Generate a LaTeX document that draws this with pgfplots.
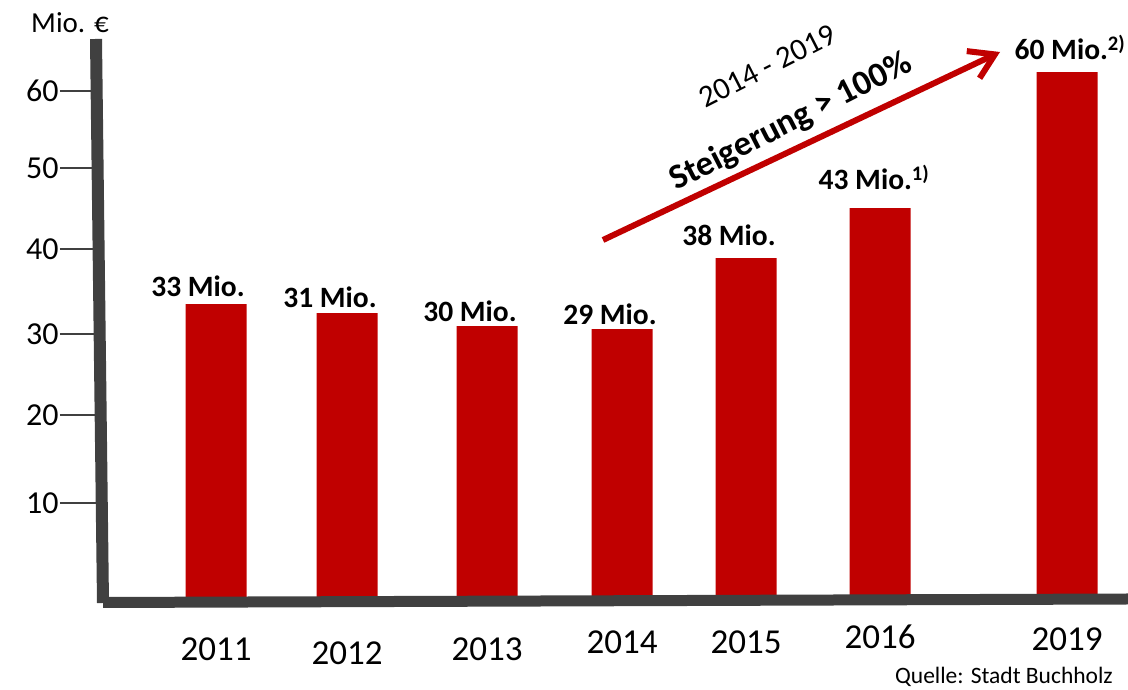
\documentclass[border=0pt]{standalone}
\usepackage{pgfplots}
\pgfplotsset{compat=1.18}
\usepackage{fontspec}
\setmainfont{Carlito}
\usetikzlibrary{arrows.meta}
\definecolor{barred}{HTML}{C00000}
\definecolor{axgray}{HTML}{404040}
\begin{document}
\begin{tikzpicture}[x=1pt,y=1pt]
\useasboundingbox (0,0) rectangle (1128,690);
\begin{axis}[
  at={(100pt,90pt)}, anchor=south west,
  scale only axis, width=1028pt, height=561pt,
  xmin=100, xmax=1128, ymin=0, ymax=64.8,
  axis line style={draw=none},
  ybar, bar width=61pt,
  xtick={216,347,487,622,746,880,1067},
  xticklabels={2011,\raisebox{-4pt}{2012},2013,\raisebox{7pt}{2014},\raisebox{7pt}{2015},\raisebox{12pt}{2016},\raisebox{10pt}{2019}},
  xtick style={draw=none},
  xtick pos=bottom, ytick pos=left,
  xticklabel style={font=\fontsize{35}{35}\selectfont, anchor=base, yshift=-21pt},
  ytick={11.2,21.36,30.72,40.53,49.88,58.78},
  yticklabels={10,20,30,40,50,60},
  tick align=outside,
  major tick length=40pt,
  ytick style={axgray, line width=2.5pt},
  yticklabel style={font=\fontsize{32}{32}\selectfont, anchor=east, xshift=2pt},
  /pgf/number format/assume math mode=true,
  clip=false,
]
\addplot[fill=barred, draw=none] coordinates {
  (216,34.18) (347,33.14) (487,31.64) (622,31.29) (746,39.49) (880,45.27) (1067,60.97)
};
\end{axis}
% axis lines (hand-drawn, slightly tilted)
\draw[axgray, line width=12pt] (96,651) -- (103,87);
\draw[axgray, line width=11pt] (103,87.5) -- (1128,91);
% value labels
\begin{scope}[every node/.style={anchor=base, font=\bfseries\fontsize{29.5}{29.5}\selectfont, inner sep=0pt}]
\node at (198,393) {33 Mio.};
\node at (330,382) {31 Mio.};
\node at (470,368) {30 Mio.};
\node at (610,365) {29 Mio.};
\node at (729,444) {38 Mio.};
\node at (874,500) {43 Mio.\textsuperscript{1)}};
\node at (1070,630) {60 Mio.\textsuperscript{2)}};
\end{scope}
\node[anchor=base, inner sep=0pt, font=\fontsize{29}{29}\selectfont] at (70,657) {Mio. €};
% arrow and annotation
\draw[barred, line width=6pt, -{Straight Barb[length=24pt,width=30pt]}] (603,450) -- (1000,638);
\node[rotate=27, font=\fontsize{31}{31}\selectfont] at (767,624) {2014 - 2019};
\node[rotate=27, font=\bfseries\fontsize{35}{35}\selectfont] at (791,568) {Steigerung > 100\%};
\node[anchor=base east, inner sep=0pt, font=\fontsize{23.5}{23.5}\selectfont] at (1113,6) {Quelle: Stadt Buchholz};
\end{tikzpicture}
\end{document}
